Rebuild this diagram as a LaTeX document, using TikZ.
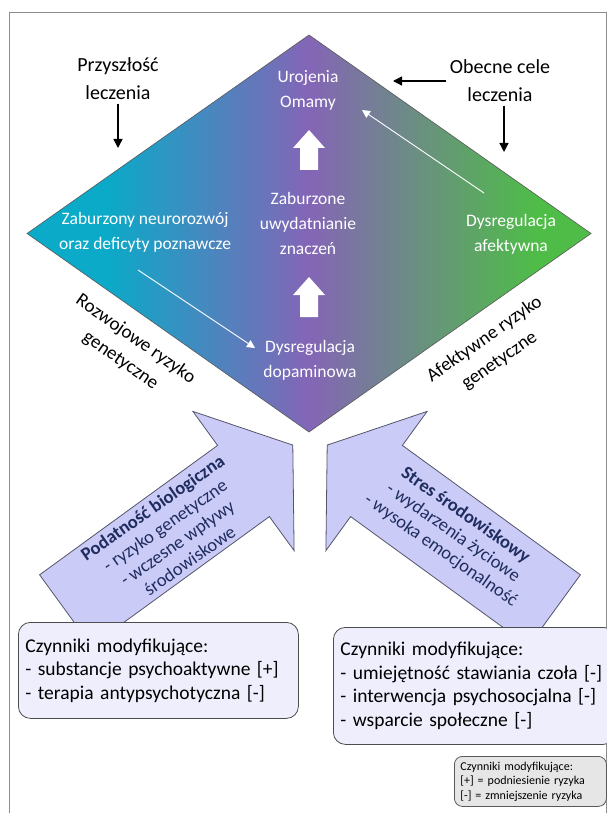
\documentclass[tikz,border=0pt]{standalone}
\usepackage{fontspec}
\setmainfont{Carlito}
\usepackage{xcolor}
\definecolor{diaCyan}{HTML}{0AAAC8}
\definecolor{diaPurple}{HTML}{8465B6}
\definecolor{diaGreen}{HTML}{4FBC48}
\definecolor{lavFill}{HTML}{CBCBF8}
\definecolor{lavDraw}{HTML}{55556A}
\definecolor{navyText}{HTML}{1F2D5E}
\definecolor{boxFill}{HTML}{EEEEFC}
\definecolor{legFill}{HTML}{E6E6E6}
\definecolor{frameGray}{HTML}{8C8C8C}
\usetikzlibrary{arrows.meta, positioning}
\pgfdeclarehorizontalshading{diamondshade}{100bp}{color(0bp)=(diaCyan); color(32bp)=(diaCyan); color(50bp)=(diaPurple); color(70bp)=(diaGreen); color(100bp)=(diaGreen)}

\begin{document}
\begin{tikzpicture}[
		x=1pt, y=-1pt,
		outertxt/.style={font=\fontsize{20}{28}\selectfont, align=center},
		innertxt/.style={text=white, font=\fontsize{17.5}{25}\selectfont, align=center},
		risktxt/.style={font=\fontsize{19}{26}\selectfont, align=center},
		arrtxt/.style={text=navyText, font=\fontsize{18.5}{21.5}\selectfont, align=center},
		bigarrow/.style={fill=lavFill, draw=lavDraw, line width=0.8pt},
		modbox/.style={
			draw=black!70,
			fill=boxFill,
			rounded corners=12pt,
			line width=0.8pt,
			anchor=north west,
			align=left,
			font=\fontsize{19.5}{23.5}\selectfont
		},
		legbox/.style={
			draw=black!65,
			fill=legFill,
			rounded corners=8pt,
			line width=0.8pt,
			anchor=north west,
			align=left,
			font=\fontsize{12}{14.5}\selectfont
		},
		thinwhite/.style={white, line width=0.9pt, -{Triangle[width=8pt,length=8pt]}},
		blackarrow/.style={black, line width=1.4pt, -{Triangle[width=9pt,length=9pt]}},
		uparrow/.pic={\fill[white] (-9,0) -- (-9,-22) -- (-16,-22) -- (0,-40) -- (16,-22) -- (9,-22) -- (9,0) -- cycle;}
		]
		
		\useasboundingbox (0,0) rectangle (607,813);
		\draw[frameGray, line width=1pt] (9,813) -- (9,13) -- (606,13) -- (606,813);
		
		% diamond
		\shadedraw[shading=diamondshade, draw=gray!70!black, line width=0.6pt]
			(309,35) -- (591,233.5) -- (309,432) -- (27,233.5) -- cycle;
		
		\pic at (309,170) {uparrow};
		\pic at (309,317) {uparrow};
		
		\node[innertxt] (urojenia) at (308,90.5) {Urojenia\\Omamy};
		\node[innertxt] (znaczen) at (308,223.5) {Zaburzone\\uwydatnianie\\znaczeń};
		\node[innertxt] (neuro) at (145,232.5) {Zaburzony neurorozwój\\oraz deficyty poznawcze};
		\node[innertxt] (afekt) at (511,234) {Dysregulacja\\afektywna};
		\node[innertxt] (dopamina) at (310,360.5) {Dysregulacja\\dopaminowa};
		
		\coordinate (afektStart) at (484,193);
		\coordinate (omamyEnd) at (362,110);
		\coordinate (neuroStart) at (138,270);
		\coordinate (dopaEnd) at (255,348);
		\draw[thinwhite] (afektStart) -- (omamyEnd);
		\draw[thinwhite] (neuroStart) -- (dopaEnd);
		
		% labels around
		\node[outertxt] (przysz) at (118,79) {Przyszłość\\leczenia};
		\node[outertxt] (obecne) at (500,81) {Obecne cele\\leczenia};
		\coordinate (przyszTip) at (118,148);
		\coordinate (obecneTip) at (393,81);
		\coordinate (obecneDown) at (504,152);
		\draw[blackarrow] (przysz) -- (przyszTip);
		\draw[blackarrow] (obecne.west) -- (obecneTip);
		\draw[blackarrow] ([xshift=4pt]obecne.south) -- (obecneDown);
		
		\node[risktxt, rotate=-35] (rozwoj) at (128,350) {Rozwojowe ryzyko\\genetyczne};
		\node[risktxt, rotate=35] (afektRyzyko) at (492,350) {Afektywne ryzyko\\genetyczne};
		
		% big arrows
		\filldraw[bigarrow] (292.8,445.1) -- (192.9,411.4) -- (217.6,445.4) -- (39.6,574.8)
			-- (91.4,646) -- (269.4,516.6) -- (294.1,550.6) -- cycle;
		\filldraw[bigarrow] (327.2,445.1) -- (427.1,411.4) -- (402.4,445.4) -- (580.4,574.8)
			-- (528.6,646) -- (350.6,516.6) -- (325.9,550.6) -- cycle;
		
		\node[arrtxt, rotate=35] (podatnosc) at (171,534)
			{\textbf{Podatność biologiczna}\\- ryzyko genetyczne\\- wczesne wpływy\\środowiskowe};
		\node[arrtxt, rotate=-35] (stres) at (453,533)
			{\textbf{Stres środowiskowy}\\- wydarzenia życiowe\\- wysoka emocjonalność};
		
		% boxes
		\node[modbox, minimum height=96pt, text width=266pt, inner xsep=7pt] (modLewy) at (18,622)
			{Czynniki modyfikujące:\\- substancje psychoaktywne [+]\\- terapia antypsychotyczna [-]};
		\node[modbox, minimum height=117pt, text width=268pt, inner xsep=7pt] (modPrawy) at (333,627)
			{Czynniki modyfikujące:\\- umiejętność stawiania czoła [-]\\- interwencja psychosocjalna [-]\\- wsparcie społeczne [-]};
		\node[legbox, minimum height=50pt, text width=140pt, inner xsep=6pt] (legenda) at (454,756)
			{Czynniki modyfikujące:\\{}[+] = podniesienie ryzyka\\{}[-] = zmniejszenie ryzyka};
		
	\end{tikzpicture}
\end{document}
